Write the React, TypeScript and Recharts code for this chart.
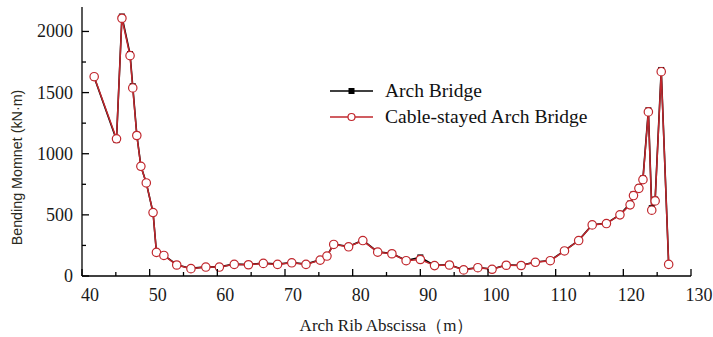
import { LineChart, Line, XAxis, YAxis } from 'recharts'

const abscissa = [
  41.8, 45.1, 45.9, 47.1, 47.5, 48.1, 48.7, 49.5, 50.5, 51.0, 52.1, 54.0,
  56.1, 58.3, 60.3, 62.5, 64.6, 66.8, 68.9, 71.0, 73.1, 75.2, 76.2, 77.2,
  79.4, 81.5, 83.7, 85.8, 87.9, 90.0, 92.1, 94.3, 96.4, 98.5, 100.6, 102.7,
  104.9, 107.0, 109.2, 111.3, 113.4, 115.4, 117.5, 119.5, 121.0, 121.5, 122.3,
  122.9, 123.7, 124.2, 124.7, 125.6, 126.7,
]

const archBridge = [
  1625, 1112, 2122, 1815, 1552, 1155, 900, 761, 519, 195, 170, 92,
  62, 75, 75, 97, 94, 105, 97, 110, 97, 132, 165, 260,
  241, 292, 197, 184, 127, 152, 87, 92, 52, 70, 57, 90,
  88, 114, 127, 207, 292, 420, 431, 502, 592, 668, 725,
  798, 1355, 555, 625, 1685, 95,
]

const cableStayed = [
  1630, 1122, 2108, 1802, 1538, 1149, 897, 761, 519, 193, 168, 90,
  60, 73, 73, 95, 92, 103, 95, 108, 95, 130, 163, 258,
  239, 290, 195, 182, 125, 135, 85, 90, 50, 68, 55, 88,
  86, 112, 125, 205, 290, 418, 429, 500, 582, 658, 717,
  788, 1342, 538, 614, 1671, 95,
]

const xTicks = [40, 45, 50, 55, 60, 65, 70, 75, 80, 85, 90, 95, 100, 105, 110, 115, 120, 125, 130]
const yTicks = [0, 250, 500, 750, 1000, 1250, 1500, 1750, 2000]

const chartData = abscissa.map((x, i) => ({ x, arch: archBridge[i], cable: cableStayed[i] }))

const RED = '#c1272d'
const serif = '"Liberation Serif", "Times New Roman", serif'

const XTick = (props: any) => {
  const { x, y, payload } = props
  const major = payload.value % 10 === 0
  return (
    <g>
      <line x1={x} x2={x} y1={y} y2={y - (major ? 7 : 4)} stroke="#000" strokeWidth={1.3} />
      {major && (
        <text x={x + 8} y={y + 25} textAnchor="middle" fontFamily={serif} fontSize={18} fill="#1a1a1a">
          {payload.value}
        </text>
      )}
    </g>
  )
}

const YTick = (props: any) => {
  const { x, y, payload } = props
  const major = payload.value % 500 === 0
  return (
    <g>
      <line x1={x} x2={x + (major ? 7 : 4)} y1={y} y2={y} stroke="#000" strokeWidth={1.3} />
      {major && (
        <text x={x - 9} y={y + 6} textAnchor="end" fontFamily={serif} fontSize={18} fill="#1a1a1a">
          {payload.value}
        </text>
      )}
    </g>
  )
}

const squareDot = (props: any) => {
  const { cx, cy, index } = props
  return <rect key={`sq-${index}`} x={cx - 3} y={cy - 3} width={6} height={6} fill="#000" />
}

const circleDot = (props: any) => {
  const { cx, cy, index } = props
  return <circle key={`ci-${index}`} cx={cx} cy={cy} r={4.2} fill="#fff" stroke={RED} strokeWidth={1.2} />
}

const ChartLegend = () => (
  <svg width={280} height={60} style={{ position: 'absolute', left: 330, top: 77 }}>
    <line x1={0} x2={43} y1={14} y2={14} stroke="#000" strokeWidth={1.5} />
    <rect x={18.5} y={11} width={6} height={6} fill="#000" />
    <text x={55} y={20} fontFamily={serif} fontSize={19.5} fill="#111">Arch Bridge</text>
    <line x1={0} x2={43} y1={40} y2={40} stroke={RED} strokeWidth={1.5} />
    <circle cx={21.5} cy={40} r={3.5} fill="#fff" stroke={RED} strokeWidth={1.2} />
    <text x={55} y={46} fontFamily={serif} fontSize={19.5} fill="#111">Cable-stayed Arch Bridge</text>
  </svg>
)

export default function App() {
  return (
    <div style={{ position: 'relative', width: 713, height: 337, background: '#fff' }}>
      <style>{'body{margin:0}'}</style>
      <LineChart width={713} height={337} data={chartData} margin={{ top: 7, right: 22, bottom: 0, left: 0 }}>
        <XAxis
          dataKey="x"
          type="number"
          domain={[40, 130]}
          ticks={xTicks}
          interval={0}
          height={61}
          tickSize={0}
          tickMargin={0}
          tickLine={false}
          tick={<XTick />}
          axisLine={{ stroke: '#000', strokeWidth: 1.3 }}
          label={{
            value: 'Arch Rib Abscissa（m）',
            position: 'insideBottom',
            offset: 6,
            style: { fontFamily: serif, fontSize: 17, fill: '#1a1a1a' },
          }}
        />
        <YAxis
          type="number"
          domain={[0, 2200]}
          ticks={yTicks}
          interval={0}
          width={82}
          tickSize={0}
          tickMargin={0}
          tickLine={false}
          tick={<YTick />}
          axisLine={{ stroke: '#000', strokeWidth: 1.3 }}
          label={{
            value: 'Bending Momnet (kN·m)',
            angle: -90,
            position: 'center',
            dx: -24,
            dy: 26,
            style: { fontFamily: '"Liberation Sans", Arial, sans-serif', fontSize: 14.3, fill: '#2a2a20' },
          }}
        />
        <Line
          dataKey="arch"
          name="Arch Bridge"
          stroke="#000"
          strokeWidth={1.6}
          dot={squareDot}
          activeDot={false}
          isAnimationActive={false}
        />
        <Line
          dataKey="cable"
          name="Cable-stayed Arch Bridge"
          stroke={RED}
          strokeWidth={1.5}
          dot={circleDot}
          activeDot={false}
          isAnimationActive={false}
        />
      </LineChart>
      <ChartLegend />
    </div>
  )
}
